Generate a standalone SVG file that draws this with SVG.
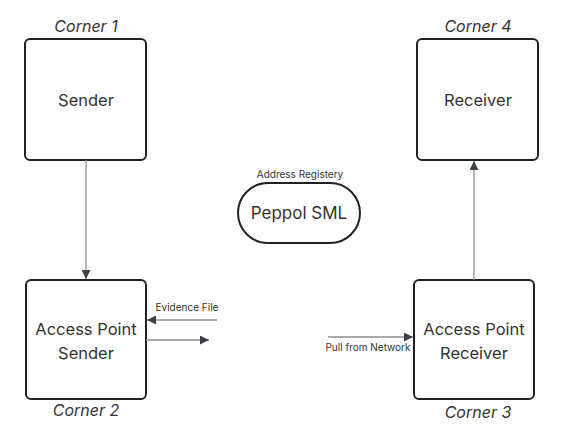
<svg xmlns="http://www.w3.org/2000/svg" width="584" height="443" viewBox="0 0 584 443">
<style>
.box{fill:#fff;stroke:#222;stroke-width:2}
.t{font-family:Inter,"Liberation Sans",sans-serif;fill:#333;text-anchor:middle}
.lbl{font-size:16.5px}
.cor{font-size:16px;font-style:italic}
.sm{font-size:10px}
.ln{stroke:#8a8f96;stroke-width:1.3;fill:none}
</style>
<defs>
<marker id="ah" viewBox="0 0 10 10" refX="10" refY="5" markerWidth="9" markerHeight="9" markerUnits="userSpaceOnUse" orient="auto">
<path d="M0,0 L10,5 L0,10 Z" fill="#3a414a"/>
</marker>
</defs>
<rect width="584" height="443" fill="#fff"/>
<g id="sender">
<rect class="box" x="25" y="39" width="121" height="121" rx="5"/>
<text class="t lbl" x="86" y="106">Sender</text>
<text class="t cor" x="86" y="32">Corner 1</text>
</g>
<g id="receiver">
<rect class="box" x="417" y="39" width="121" height="121" rx="5"/>
<text class="t lbl" x="478" y="106">Receiver</text>
<text class="t cor" x="478" y="32">Corner 4</text>
</g>
<g id="ap-sender">
<rect class="box" x="26" y="280" width="120" height="119" rx="5"/>
<text class="t lbl" x="86" y="335">Access Point</text>
<text class="t lbl" x="86" y="359">Sender</text>
<text class="t cor" x="86" y="416">Corner 2</text>
</g>
<g id="ap-receiver">
<rect class="box" x="414" y="280" width="120" height="119" rx="5"/>
<text class="t lbl" x="474" y="335">Access Point</text>
<text class="t lbl" x="474" y="359">Receiver</text>
<text class="t cor" x="478" y="418">Corner 3</text>
</g>
<g id="sml">
<rect class="box" x="238" y="183" width="122" height="60" rx="30"/>
<text class="t" x="299" y="219" font-size="17">Peppol SML</text>
<text class="t sm" x="300" y="178">Address Registery</text>
</g>
<g id="connectors">
<line class="ln" x1="86" y1="160" x2="86" y2="279" marker-end="url(#ah)"/>
<line class="ln" x1="474" y1="280" x2="474" y2="161" marker-end="url(#ah)"/>
<line class="ln" x1="217" y1="320" x2="147" y2="320" marker-end="url(#ah)"/>
<line class="ln" x1="146" y1="340" x2="209" y2="340" marker-end="url(#ah)"/>
<line class="ln" x1="328" y1="337" x2="413" y2="337" marker-end="url(#ah)"/>
<text class="t sm" x="187" y="311">Evidence File</text>
<text class="t sm" x="368" y="351">Pull from Network</text>
</g>
</svg>
